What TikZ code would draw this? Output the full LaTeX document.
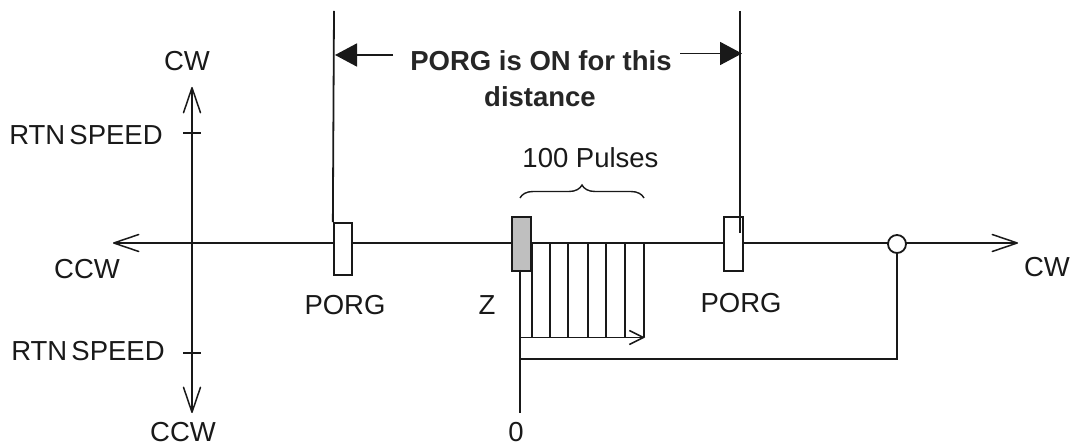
\documentclass[tikz,border=0pt]{standalone}
\usepackage{fontspec}
\setmainfont{Liberation Sans}
\usetikzlibrary{arrows.meta,decorations.pathreplacing,calc}
\tikzset{
  ln/.style={line width=1.8pt,draw=black!90},
  barb/.tip={Straight Barb[length=25pt,width=17pt,line width=1.5pt,round]},
  small/.style={-{Straight Barb[length=14pt,width=14pt,line width=1.5pt]}},
  filled/.style={-{Triangle[length=22pt,width=23pt]}},
  lab/.style={font=\fontsize{27.5}{32}\selectfont,inner sep=0pt,text=black!90},
  blab/.style={font=\fontsize{27.5}{35}\selectfont\bfseries,inner sep=0pt,text=black!85,align=center},
  mark box/.style={ln,fill=white,minimum width=18.5pt,minimum height=54pt,inner sep=0pt},
}
\begin{document}
\begin{tikzpicture}[x=1pt,y=-1pt]
\useasboundingbox (0,0) rectangle (1074,446);
% axis endpoints
\coordinate (hl) at (113,243);
\coordinate (hr) at (1018,243);
\coordinate (vt) at (192,87);
\coordinate (vb) at (192,413);
\draw[ln,barb-barb] (hl) -- (hr);
\draw[ln,barb-barb] (vt) -- (vb);
\coordinate (t1a) at (183,133); \coordinate (t1b) at (201,133);
\coordinate (t2a) at (183,353); \coordinate (t2b) at (201,353);
\draw[ln] (t1a) -- (t1b);
\draw[ln] (t2a) -- (t2b);
% marker boxes
\node[mark box,minimum height=52pt] (porgL) at (343,249) {};
\node[mark box,fill=black!25] (zbox) at (521.5,244) {};
\node[mark box] (porgR) at (733.5,244) {};
% top extents
\coordinate (topL) at (334,11);
\coordinate (topR) at (740,11);
\coordinate (endR) at (740,233);
\draw[ln] (topL) -- (porgL.north west);
\draw[ln] (topR) -- (endR);
% pulses
\foreach \x in {532,550,568,588,606,625,644}{
  \draw[ln] (\x,243) -- (\x,337.5);
}
\coordinate (zero) at (520,270);
\coordinate (zend) at (520,413);
\draw[ln] (zero) -- (zend);
\draw[ln,small] (520,337.5) -- (645,337.5);
% circle
\node[ln,fill=white,circle,minimum size=18pt,inner sep=0pt] (circ) at (897,244) {};
\coordinate (corner) at (897,359);
\coordinate (start2) at (520,359);
\draw[ln] (start2) -- (corner) -- (circ.south);
% brace
\draw[ln,line width=1.4pt,decorate,decoration={brace,amplitude=13pt}] (520,198) -- (644,198);
% labels
\node[blab] (on) at (541,61) {PORG is ON for this};
\node[blab] (dist) at (540,97) {distance};
\coordinate (d1) at (393,55); \coordinate (d1t) at (335,55);
\coordinate (d2) at (680,53.5); \coordinate (d2t) at (742,53.5);
\draw[ln,filled] (d1) -- (d1t);
\draw[ln,filled] (d2) -- (d2t);
\node[lab] (cwtop) at (187,61) {CW};
\node[lab] (r1) at (86,135) {RTN\hspace{-3.5pt} SPEED};
\node[lab] (r2) at (88,351) {RTN\hspace{-3.5pt} SPEED};
\node[lab] (ccwl) at (87,269) {CCW};
\node[lab] (ccwb) at (183,432) {CCW};
\node[lab] (zero0) at (516,432) {0};
\node[lab] (plab) at (590.5,158) {100 Pulses};
\node[lab] (pl) at (345,305) {PORG};
\node[lab] (z) at (487,305) {Z};
\node[lab] (pr) at (741,303) {PORG};
\node[lab] (cwr) at (1047,267) {CW};
\end{tikzpicture}
\end{document}
